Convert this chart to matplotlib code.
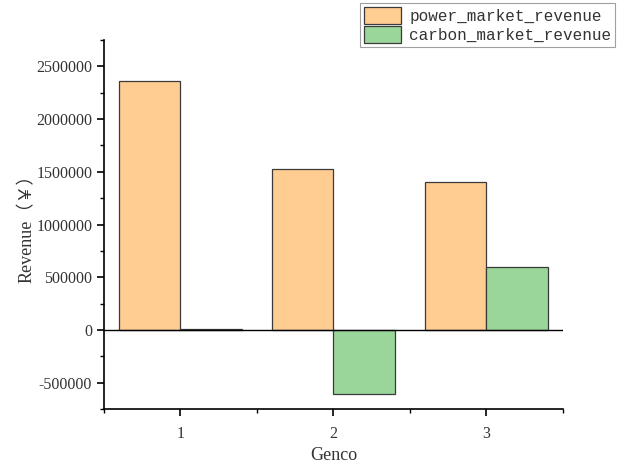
import numpy as np
import matplotlib.pyplot as plt
from matplotlib.ticker import MultipleLocator, FormatStrFormatter

# data
gencos = [1, 2, 3]
power_market_revenue = [2358000, 1529000, 1400000]
carbon_market_revenue = [12000, -608000, 594000]

plt.rcParams['font.family'] = ['Liberation Serif', 'Noto Sans CJK SC']
plt.rcParams['axes.unicode_minus'] = False

fig = plt.figure(figsize=(6.33, 4.67), dpi=100)
ax = fig.add_axes([0.1643, 0.1242, 0.725, 0.790])

x = np.array(gencos, dtype=float)
w = 0.4
b1 = ax.bar(x - w / 2, power_market_revenue, width=w, color='#FFCC91',
            edgecolor='#3a3a3a', linewidth=0.9, label='power_market_revenue')
b2 = ax.bar(x + w / 2, carbon_market_revenue, width=w, color='#9AD69A',
            edgecolor='#3a3a3a', linewidth=0.9, label='carbon_market_revenue')

ax.axhline(0, color='black', linewidth=1.0, zorder=3)

ax.set_xlim(0.5, 3.5)
ax.set_ylim(-750000, 2750000)
ax.set_xticks(gencos)
ax.xaxis.set_minor_locator(MultipleLocator(0.5))
ax.yaxis.set_major_locator(MultipleLocator(500000))
ax.yaxis.set_minor_locator(MultipleLocator(250000))
ax.yaxis.set_major_formatter(FormatStrFormatter('%d'))

ax.spines['top'].set_visible(False)
ax.spines['right'].set_visible(False)
ax.spines['left'].set_linewidth(1.2)
ax.spines['bottom'].set_linewidth(1.2)
ax.tick_params(which='major', direction='out', length=5, width=1.2,
               labelsize=11.5, colors='black', labelcolor='#333333')
ax.tick_params(which='minor', direction='out', length=3, width=1.0)
ax.tick_params(axis='x', pad=7)

ax.set_xlabel('Genco', fontsize=13, color='#333333', labelpad=4)
ax.set_ylabel('Revenue（￥）', fontsize=13, color='#333333', labelpad=0)

leg = fig.legend(handles=[b1, b2], loc='upper right',
                 bbox_to_anchor=(0.972, 0.993), frameon=True, fancybox=False,
                 prop={'family': 'Liberation Mono', 'size': 11.5},
                 handlelength=2.3, handleheight=1.2, handletextpad=0.5,
                 borderpad=0.25, labelspacing=0.15, borderaxespad=0)
leg.get_frame().set_edgecolor('#888888')
leg.get_frame().set_linewidth(0.8)
for t in leg.get_texts():
    t.set_color('#333333')

fig.savefig('out.png', dpi=100)
